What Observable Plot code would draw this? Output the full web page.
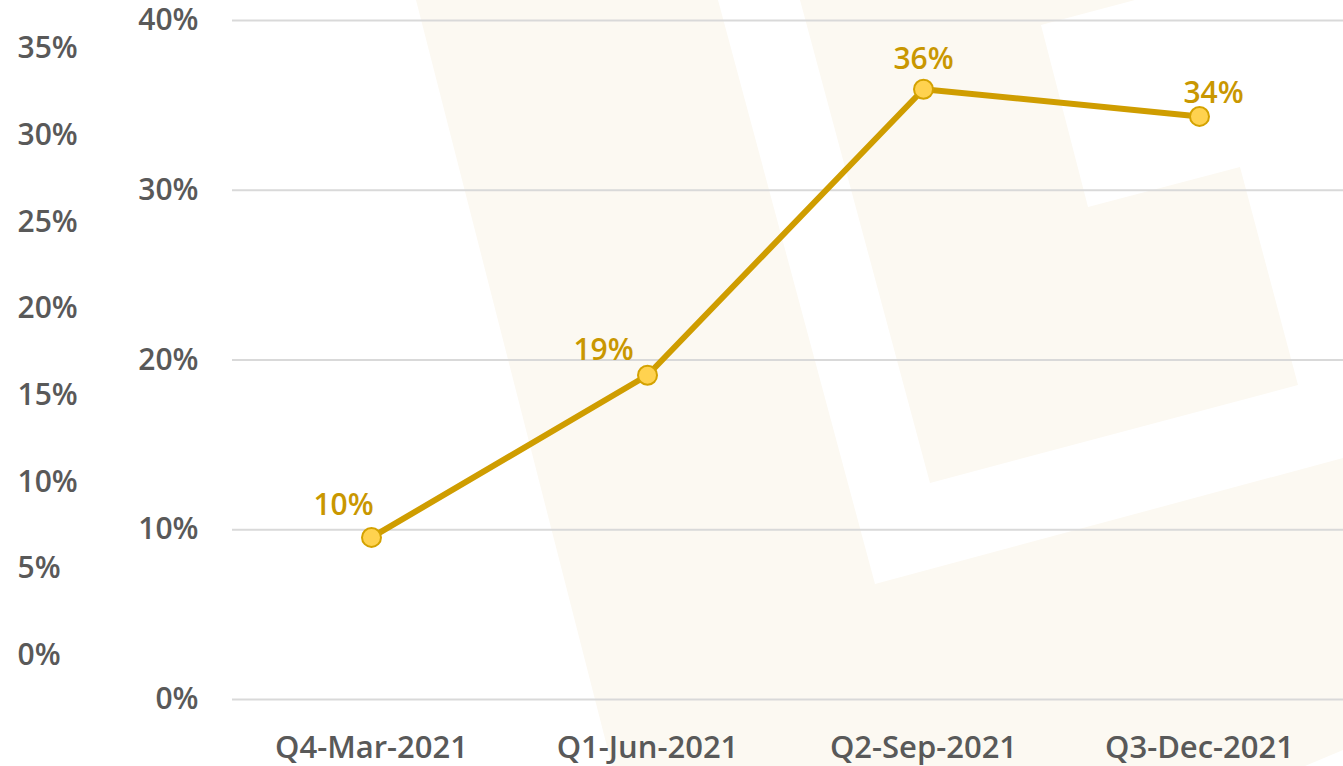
<!DOCTYPE html>
<html>
<head>
<meta charset="utf-8">
<script src="https://cdn.jsdelivr.net/npm/d3@7"></script>
<script src="https://cdn.jsdelivr.net/npm/@observablehq/plot@0.6"></script>
<style>
  html, body { margin: 0; padding: 0; background: #ffffff; }
  #wrap { position: relative; width: 1343px; height: 766px; overflow: hidden; }
  #wrap > * { position: absolute; left: 0; top: 0; }
</style>
</head>
<body>
<div id="wrap">
  <svg id="bg" width="1343" height="766" viewBox="0 0 1343 766">
    <polygon fill="#FCF9F2" points="416,0 718,0 875,584 1343,458 1343,750 1305,766 612,766"/>
    <polygon fill="#FCF9F2" points="800,0 1135,0 1041,25 1088,207 1240,167 1298,385 930,483"/>
  </svg>
  <div id="outer"></div>
  <div id="main"></div>
</div>
<script>
// ---- data ----
const quarters = ["Q4-Mar-2021", "Q1-Jun-2021", "Q2-Sep-2021", "Q3-Dec-2021"];
const values = [9.55, 19.1, 35.95, 34.35];          // percent
const innerTicks = [0, 10, 20, 30, 40];
const outerTicks = [0, 5, 10, 15, 20, 25, 30, 35];

const data = quarters.map((q, i) => ({quarter: q, value: values[i]}));
const pct = d => d + "%";

const font = {
  fontFamily: "'Open Sans', 'Noto Sans', sans-serif",
  fontWeight: 600,
  fontSize: "30px",
  color: "#595959",
  background: "transparent",
  overflow: "visible"
};

// label offsets (layout only)
const labelOffsets = [[-28, -32], [-44, -25], [0, -30], [14, -23]];

// ---- outer (secondary) axis ----
const outer = Plot.plot({
  width: 100,
  height: 766,
  marginLeft: 0,
  marginRight: 83,
  marginTop: 48,
  marginBottom: 111,
  style: font,
  y: {domain: [0, 35], ticks: outerTicks, tickFormat: pct},
  marks: [
    Plot.axisY(outerTicks, {anchor: "right", tickSize: 0, tickPadding: 0, tickFormat: pct, label: null, fill: "#595959"})
  ]
});
document.getElementById("outer").appendChild(outer);

// ---- main chart ----
const main = Plot.plot({
  width: 1343,
  height: 766,
  marginLeft: 232,
  marginRight: 0,
  marginTop: 20,
  marginBottom: 67,
  style: font,
  x: {type: "point", domain: quarters, range: [371, 1199], padding: 0},
  y: {domain: [0, 40]},
  marks: [
    Plot.gridY(innerTicks, {stroke: "#d9d9d9", strokeOpacity: 1, strokeWidth: 2}),
    Plot.axisY(innerTicks, {anchor: "left", tickSize: 0, tickPadding: 34, tickFormat: pct, label: null, fill: "#595959"}),
    Plot.axisX(quarters, {anchor: "bottom", tickSize: 0, tickPadding: 36, label: null, fill: "#595959", fontSize: 31}),
    Plot.line(data, {x: "quarter", y: "value", stroke: "#CF9D00", strokeWidth: 6, strokeLinejoin: "round"}),
    Plot.dot(data, {x: "quarter", y: "value", r: 9.5, fill: "#FFD24F", stroke: "#D4A200", strokeWidth: 2}),
    ...labelOffsets.map(([dx, dy], i) =>
      Plot.text([data[i]], {
        x: "quarter", y: "value",
        text: d => Math.round(d.value) + "%",
        dx, dy,
        fill: "#C99700",
        fontWeight: 600
      })
    )
  ]
});
document.getElementById("main").appendChild(main);
</script>
</body>
</html>
